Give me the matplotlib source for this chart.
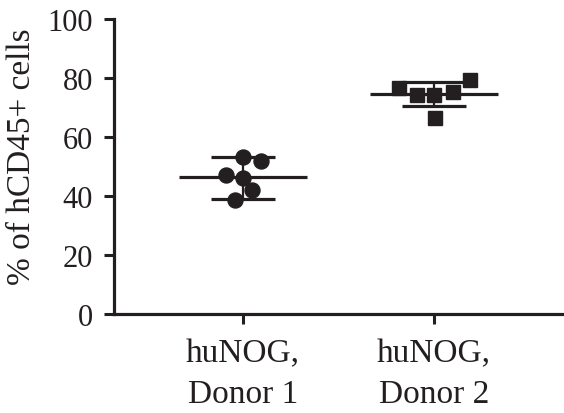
import numpy as np
import matplotlib
matplotlib.use('Agg')
import matplotlib.pyplot as plt

plt.rcParams['font.family'] = ['Liberation Serif', 'DejaVu Serif']

# data
groups = ['huNOG,\nDonor 1', 'huNOG,\nDonor 2']
donor1 = [53.2, 51.9, 47.1, 46.1, 42.0, 38.6]
donor2 = [76.6, 74.2, 74.2, 75.3, 79.3, 66.4]
jitter1 = [0.0, 0.094, -0.089, 0.0, 0.047, -0.042]
jitter2 = [-0.183, -0.089, 0.0, 0.099, 0.188, 0.005]
means = [46.4, 74.6]
sd_low = [39.0, 70.5]
sd_high = [53.2, 78.6]

ink = '#231f20'

fig = plt.figure(figsize=(5.64, 4.14), dpi=100)
ax = fig.add_axes([0.202, 0.239, 0.798, 0.713])

pos = np.arange(1, len(groups) + 1)

ax.plot(pos[0] + np.array(jitter1), donor1, 'o', color=ink, ms=10.8, zorder=3)
ax.plot(pos[1] + np.array(jitter2), donor2, 's', color=ink, ms=9.5, zorder=3)

for i in range(len(groups)):
    ax.hlines(means[i], pos[i] - 0.335, pos[i] + 0.335, color=ink, lw=2.3, zorder=2)
    ax.hlines([sd_low[i], sd_high[i]], pos[i] - 0.166, pos[i] + 0.166, color=ink, lw=2.3, zorder=2)
    ax.vlines(pos[i], sd_low[i], sd_high[i], color=ink, lw=1.6, zorder=2)

ax.set_xlim(0.325, 2.68)
ax.set_ylim(0, 100)
ax.set_yticks([0, 20, 40, 60, 80, 100])
ax.set_xticks(pos)
ax.set_xticklabels(groups, fontsize=24, linespacing=1.45)
ax.tick_params(axis='y', labelsize=22, width=2.2, length=7, color=ink, labelcolor=ink, pad=8)
ax.tick_params(axis='x', width=2.2, length=7, color=ink, labelcolor=ink, pad=10)
ax.set_ylabel('% of hCD45+ cells', fontsize=24, color=ink)
ax.yaxis.set_label_coords(-0.17, 0.536)

for s in ['top', 'right']:
    ax.spines[s].set_visible(False)
for s in ['left', 'bottom']:
    ax.spines[s].set_linewidth(2.3)
    ax.spines[s].set_color(ink)

fig.savefig('out.png', dpi=100)
